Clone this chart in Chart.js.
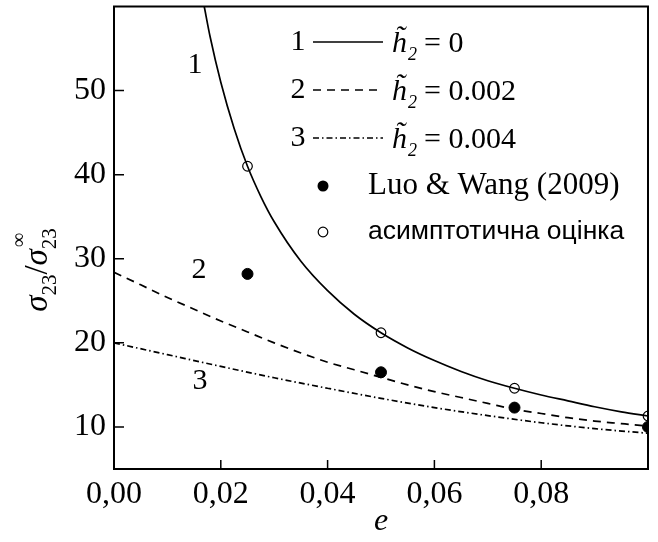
<!DOCTYPE html>
<html><head><meta charset="utf-8">
<script src="https://cdn.jsdelivr.net/npm/chart.js@4"></script>
<style>html,body{margin:0;padding:0;background:#fff}#wrap{width:658px;height:542px}</style>
</head><body><div id="wrap"><canvas id="c" width="658" height="542"></canvas></div>
<script>
// ---- data ----
const eCurve1 = [0.0169, 0.018, 0.02, 0.0225, 0.025, 0.0275, 0.03, 0.035, 0.04, 0.045, 0.05, 0.055, 0.06, 0.065, 0.07, 0.075, 0.08, 0.085, 0.09, 0.095, 0.1];
const sigmaCurve1 = [60, 56.4, 51.0, 45.5, 41.0, 37.4, 34.4, 29.7, 26.2, 23.4, 21.2, 19.4, 17.9, 16.6, 15.5, 14.6, 13.8, 13.1, 12.4, 11.8, 11.3];

const eCurve2 = [0, 0.005, 0.01, 0.015, 0.02, 0.025, 0.03, 0.035, 0.04, 0.045, 0.05, 0.055, 0.06, 0.065, 0.07, 0.075, 0.08, 0.085, 0.09, 0.095, 0.1];
const sigmaCurve2 = [28.4, 26.9, 25.4, 24.0, 22.6, 21.3, 20.0, 18.8, 17.7, 16.8, 15.9, 15.0, 14.2, 13.5, 12.8, 12.1, 11.6, 11.1, 10.7, 10.4, 10.1];

const eCurve3 = [0, 0.01, 0.02, 0.03, 0.04, 0.05, 0.06, 0.07, 0.08, 0.09, 0.1];
const sigmaCurve3 = [20.0, 18.6, 17.2, 15.85, 14.6, 13.4, 12.3, 11.35, 10.5, 9.8, 9.25];

const eMarks = [0.025, 0.05, 0.075, 0.1];
const luoWang = [28.2, 16.5, 12.3, 10.0];
const asymptotic = [41.0, 21.2, 14.6, 11.3];

const curveNames = ['1', '2', '3'];
const h2Values = ['0', '0.002', '0.004'];
const markNames = ['Luo & Wang (2009)', 'асимптотична оцінка'];

const xTickValues = [0, 0.02, 0.04, 0.06, 0.08];
const xTickLabels = ['0,00', '0,02', '0,04', '0,06', '0,08'];
const yTickLabels = [10, 20, 30, 40, 50];

// ---- styling ----
const SERIF = '"Liberation Serif", "Times New Roman", serif';
const SANS = '"Liberation Sans", Arial, sans-serif';
const DASH2 = [8, 6];
const DASH3 = [6, 3, 1.5, 3];

function pts(xs, ys) { return xs.map((x, i) => ({x: x, y: ys[i]})); }

function drawYTitle(ctx) {
  ctx.save();
  ctx.translate(47, 270);
  ctx.rotate(-Math.PI / 2);
  ctx.fillStyle = '#000';
  ctx.textBaseline = 'alphabetic';
  ctx.textAlign = 'left';
  const fMain = 'italic 33px ' + SERIF, fSlash = '33px ' + SERIF, fSub = '21px ' + SERIF, fSup = '20px ' + SERIF;
  ctx.font = fMain; const wS = ctx.measureText('σ').width;
  ctx.font = fSlash; const wSl = ctx.measureText('/').width;
  ctx.font = fSub; const w23 = ctx.measureText('23').width;
  const total = wS + w23 + wSl + wS + w23;
  let u = -total / 2;
  ctx.font = fMain; ctx.fillText('σ', u, 0); u += wS;
  ctx.font = fSub; ctx.fillText('23', u, 9); u += w23;
  ctx.font = fSlash; ctx.fillText('/', u, 0); u += wSl;
  ctx.font = fMain; ctx.fillText('σ', u, 0); u += wS;
  ctx.font = fSub; ctx.fillText('23', u, 9);
  ctx.font = fSup; ctx.fillText('∞', u + 2, -22);
  ctx.restore();
}

const decor = {
  id: 'decor',
  afterDraw(chart) {
    const ctx = chart.ctx, a = chart.chartArea, xs = chart.scales.x, ys = chart.scales.y;
    ctx.save();
    ctx.strokeStyle = '#000';
    // inward ticks
    ctx.lineWidth = 1.5;
    ctx.beginPath();
    ys.ticks.forEach(t => {
      const v = Math.round(t.value);
      if (v <= 5 || v >= 60) return;
      const p = ys.getPixelForValue(t.value);
      const len = v % 10 === 0 ? 10 : 6;
      ctx.moveTo(a.left, p); ctx.lineTo(a.left + len, p);
    });
    xs.ticks.forEach(t => {
      const k = Math.round(t.value * 100);
      if (k <= 0 || k >= 10) return;
      const p = xs.getPixelForValue(t.value);
      const len = k % 2 === 0 ? 9 : 5;
      ctx.moveTo(p, a.bottom); ctx.lineTo(p, a.bottom - len);
    });
    ctx.stroke();
    // frame
    ctx.lineWidth = 2;
    ctx.strokeRect(a.left, a.top, a.right - a.left, a.bottom - a.top);

    // curve labels
    ctx.fillStyle = '#000';
    ctx.font = '30px ' + SERIF;
    ctx.textAlign = 'center';
    ctx.textBaseline = 'middle';
    ctx.fillText(curveNames[0], 195, 65);
    ctx.fillText(curveNames[1], 199, 270);
    ctx.fillText(curveNames[2], 200, 381);

    // legend
    const rows = [42, 90, 138];
    const dashes = [[], DASH2, DASH3];
    rows.forEach((ry, i) => {
      ctx.font = '30px ' + SERIF;
      ctx.textAlign = 'center';
      ctx.textBaseline = 'middle';
      ctx.fillText(curveNames[i], 298, ry);
      ctx.setLineDash(dashes[i]);
      ctx.lineWidth = 1.5;
      ctx.beginPath(); ctx.moveTo(313, ry); ctx.lineTo(383, ry); ctx.stroke();
      ctx.setLineDash([]);
      ctx.textAlign = 'left';
      ctx.textBaseline = 'alphabetic';
      const base = ry + 10;
      ctx.font = 'italic 30px ' + SERIF;
      ctx.fillText('h\u0303', 392, base);
      const hw = ctx.measureText('h').width;
      ctx.font = 'italic 18px ' + SERIF;
      ctx.fillText('2', 392 + hw + 1, base + 8);
      ctx.font = '30px ' + SERIF;
      ctx.fillText('= ' + h2Values[i], 424, base);
    });
    // marker legend
    ctx.fillStyle = '#000';
    ctx.beginPath(); ctx.arc(323, 186, 5.5, 0, Math.PI * 2); ctx.fill();
    ctx.fillStyle = '#fff'; ctx.lineWidth = 1.2;
    ctx.beginPath(); ctx.arc(323, 232, 4.8, 0, Math.PI * 2); ctx.fill(); ctx.stroke();
    ctx.fillStyle = '#000';
    ctx.textAlign = 'left'; ctx.textBaseline = 'middle';
    ctx.font = '31px ' + SERIF;
    ctx.fillText(markNames[0], 368, 186);
    ctx.font = '26.5px ' + SANS;
    ctx.fillText(markNames[1], 368, 232);

    drawYTitle(ctx);
    ctx.restore();
  }
};

const lineCommon = {borderColor: '#000', borderWidth: 1.7, pointRadius: 0, fill: false, cubicInterpolationMode: 'monotone', tension: 0.4};

new Chart(document.getElementById('c'), {
  type: 'line',
  data: {
    datasets: [
      Object.assign({label: 'h2 = 0', data: pts(eCurve1, sigmaCurve1)}, lineCommon),
      Object.assign({label: 'h2 = 0.002', data: pts(eCurve2, sigmaCurve2), borderDash: DASH2}, lineCommon),
      Object.assign({label: 'h2 = 0.004', data: pts(eCurve3, sigmaCurve3), borderDash: DASH3, borderWidth: 1.4}, lineCommon),
      {label: markNames[0], data: pts(eMarks, luoWang), showLine: false, pointRadius: 5.5, pointBackgroundColor: '#000', pointBorderColor: '#000', pointBorderWidth: 1},
      {label: markNames[1], data: pts(eMarks, asymptotic), showLine: false, pointRadius: 4.8, pointBackgroundColor: '#fff', pointBorderColor: '#000', pointBorderWidth: 1.2}
    ]
  },
  options: {
    responsive: false,
    animation: false,
    devicePixelRatio: 1,
    layout: {padding: {left: 0, right: 10, top: 5, bottom: 0}},
    plugins: {legend: {display: false}, tooltip: {enabled: false}},
    scales: {
      x: {
        type: 'linear', min: 0, max: 0.1,
        grid: {display: false, drawTicks: false},
        border: {display: false},
        ticks: {
          stepSize: 0.01, autoSkip: false, maxRotation: 0, padding: 6, color: '#000',
          font: {family: SERIF, size: 32},
          callback: (v) => {
            const i = xTickValues.findIndex(t => Math.abs(t - v) < 1e-6);
            return i >= 0 ? xTickLabels[i] : null;
          }
        },
        title: {display: true, text: 'e', color: '#000', font: {family: SERIF, size: 32, style: 'italic'}, padding: {top: 0, bottom: 1}},
        afterFit: (s) => { s.height = 73; s.paddingLeft = 0; s.paddingRight = 0; }
      },
      y: {
        type: 'linear', min: 5, max: 60,
        grid: {display: false, drawTicks: false},
        border: {display: false},
        ticks: {
          stepSize: 5, autoSkip: false, maxTicksLimit: 20, padding: 8, color: '#000',
          font: {family: SERIF, size: 32},
          callback: (v) => yTickLabels.includes(Math.round(v)) && Math.abs(v - Math.round(v)) < 1e-6 ? String(Math.round(v)) : null
        },
        afterFit: (s) => { s.width = 114; s.paddingTop = 0; s.paddingBottom = 0; }
      }
    }
  },
  plugins: [decor]
});
</script>
</body></html>
